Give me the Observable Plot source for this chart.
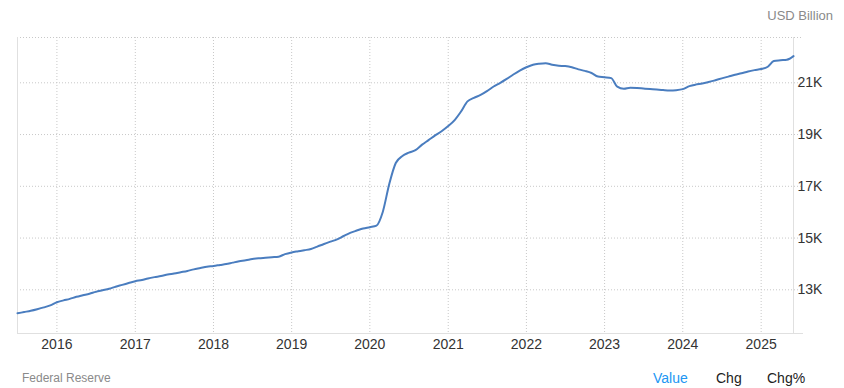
<!DOCTYPE html>
<html>
<head>
<meta charset="utf-8">
<script src="https://cdn.jsdelivr.net/npm/d3@7"></script>
<script src="https://cdn.jsdelivr.net/npm/@observablehq/plot@0.6"></script>
<style>
  html, body { margin: 0; padding: 0; background: #fff; }
  #wrap { position: relative; width: 844px; height: 388px; font-family: "Liberation Sans", Arial, sans-serif; }
  #chart { position: absolute; left: 0; top: 0; }
  .unit { position: absolute; right: 11px; top: 8px; font-size: 13px; color: #8a8a8a; }
  .source { position: absolute; left: 22px; top: 371px; font-size: 12px; color: #8a8a8a; }
  .tabs { position: absolute; top: 370px; font-size: 14px; color: #222; }
</style>
</head>
<body>
<div id="wrap">
  <div id="chart"></div>
  <div class="unit">USD Billion</div>
  <div class="source">Federal Reserve</div>
  <div class="tabs" style="left:653px;color:#2196f3">Value</div>
  <div class="tabs" style="left:716px">Chg</div>
  <div class="tabs" style="left:767px">Chg%</div>
</div>
<script>
// Monthly series, first value = July 2015, last = June 2025 (USD billion)
const startMonth = "2015-07-01";
const values2015 = [12090, 12140, 12190, 12250, 12320, 12400];
const values2016 = [12520, 12590, 12650, 12730, 12790, 12850, 12920, 12980, 13040, 13120, 13190, 13260];
const values2017 = [13330, 13380, 13440, 13490, 13530, 13590, 13630, 13680, 13730, 13790, 13840, 13890];
const values2018 = [13920, 13960, 13995, 14050, 14100, 14140, 14190, 14220, 14240, 14260, 14280, 14380];
const values2019 = [14445, 14490, 14530, 14575, 14670, 14770, 14860, 14950, 15080, 15200, 15290, 15370];
const values2020 = [15420, 15480, 16000, 17100, 17900, 18170, 18300, 18400, 18610, 18784, 18967, 19130];
const values2021 = [19330, 19570, 19880, 20280, 20420, 20530, 20680, 20857, 21000, 21150, 21320, 21470];
const values2022 = [21600, 21700, 21740, 21760, 21700, 21660, 21645, 21600, 21520, 21460, 21380, 21240];
const values2023 = [21215, 21180, 20850, 20770, 20810, 20800, 20780, 20760, 20740, 20720, 20705, 20715];
const values2024 = [20755, 20870, 20930, 20970, 21030, 21100, 21170, 21240, 21310, 21370, 21440, 21490];
const values2025 = [21530, 21620, 21840, 21870, 21890, 22030];

const yTicks = [13000, 15000, 17000, 19000, 21000];
const yearTicks = ["2016", "2017", "2018", "2019", "2020", "2021", "2022", "2023", "2024", "2025"];
const yDomain = [11311, 22751];

const allValues = [].concat(values2015, values2016, values2017, values2018, values2019,
  values2020, values2021, values2022, values2023, values2024, values2025);
const start = new Date(startMonth + "T00:00:00Z");
const data = allValues.map((v, i) => ({ date: d3.utcMonth.offset(start, i), value: v }));
const xDomain = [data[0].date, data[data.length - 1].date];
const yearDates = yearTicks.map(y => new Date(y + "-01-01T00:00:00Z"));

const chart = Plot.plot({
  width: 844,
  height: 388,
  marginLeft: 17,
  marginRight: 51,
  marginTop: 37,
  marginBottom: 55,
  style: { fontFamily: '"Liberation Sans", Arial, sans-serif', fontSize: "14px", color: "#333", background: "transparent" },
  x: { type: "utc", domain: xDomain },
  y: { domain: yDomain },
  marks: [
    Plot.gridY(yTicks, { stroke: "#c8c8c8", strokeOpacity: 1, strokeDasharray: "1,2", insetRight: -10 }),
    Plot.gridX(yearDates, { stroke: "#c8c8c8", strokeOpacity: 1, strokeDasharray: "1,2" }),
    Plot.ruleY([yDomain[1]], { stroke: "#c8c8c8", strokeDasharray: "1,2", insetRight: -10 }),
    Plot.ruleX([xDomain[0]], { stroke: "#e0e0e0" }),
    Plot.ruleX([xDomain[1]], { stroke: "#e0e0e0" }),
    Plot.ruleY([yDomain[0]], { stroke: "#e0e0e0", insetRight: -10 }),
    Plot.lineY(data, { x: "date", y: "value", stroke: "#4a7dbf", strokeWidth: 2, curve: "monotone-x" }),
    Plot.axisY(yTicks, { anchor: "right", tickSize: 0, tickPadding: 4, tickFormat: d => (d / 1000) + "K", label: null, fill: "#333" }),
    Plot.axisX(yearDates, { anchor: "bottom", tickSize: 0, tickPadding: 6, tickFormat: d3.utcFormat("%Y"), label: null, fill: "#333" })
  ]
});
document.getElementById("chart").appendChild(chart);
</script>
</body>
</html>
